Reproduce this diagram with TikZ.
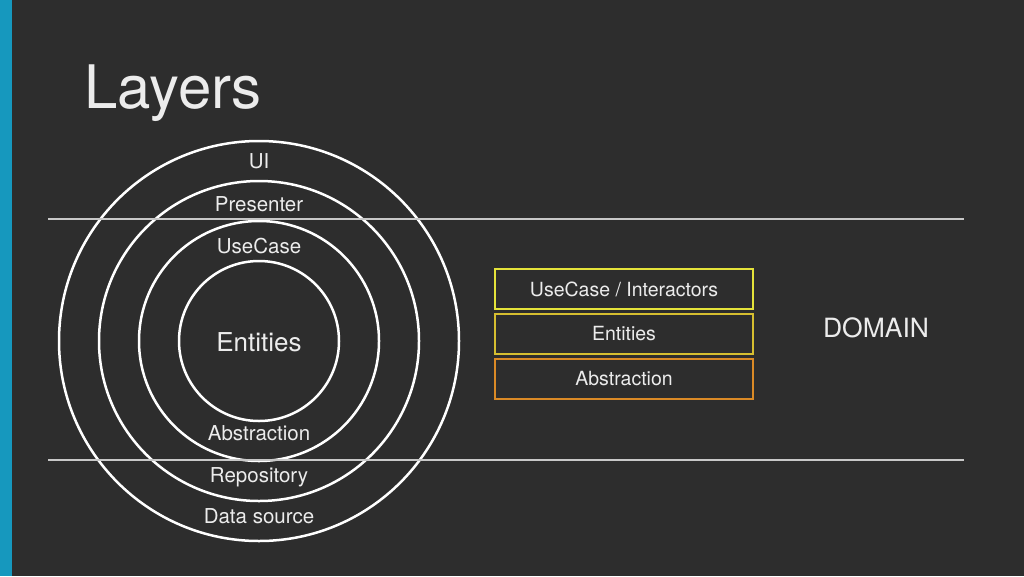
\documentclass[tikz,border=0pt]{standalone}
\usepackage{fontspec}
\setmainfont{TeX Gyre Heros}
\usepackage{xcolor}
\usetikzlibrary{positioning}
\definecolor{slate}{RGB}{45,45,45}
\definecolor{stripe}{RGB}{22,152,190}
\definecolor{ink}{RGB}{236,236,236}
\definecolor{rule}{RGB}{200,200,200}
\definecolor{lemon}{RGB}{228,226,58}
\definecolor{gold}{RGB}{214,190,48}
\definecolor{amber}{RGB}{218,138,38}

\begin{document}
\begin{tikzpicture}[x=1pt, y=-1pt,
  ring/.style={draw=white, line width=2.5pt},
  lbl/.style={text=ink, font=\fontsize{20.5}{24}\selectfont},
  layerbox/.style={draw=#1, line width=2pt, fill=slate, minimum width=258pt,
    minimum height=40pt, text=ink, font=\fontsize{19.5}{22}\selectfont}]
  \useasboundingbox (0,0) rectangle (1024,576);
  \fill[slate] (0,0) rectangle (1024,576);
  \fill[stripe] (0,0) rectangle (12,576);
  \node[anchor=base west, text=ink, font=\fontsize{60}{66}\selectfont] (title) at (81,108) {Layers};
  % onion
  \coordinate (core) at (259,341);
  \foreach \r in {80,120,160,200}
    \draw[ring] (core) circle[radius=\r pt];
  \coordinate (topl) at (48,219);
  \coordinate (topr) at (964,219);
  \coordinate (botl) at (48,460);
  \coordinate (botr) at (964,460);
  \draw[rule, line width=1.3pt] (topl) -- (topr);
  \draw[rule, line width=1.3pt] (botl) -- (botr);
  \node[lbl] (ui) at (259,161) {UI};
  \node[lbl] (pres) at (259,204) {Presenter};
  \node[lbl] (uc) at (259,246) {UseCase};
  \node[lbl, font=\fontsize{26}{30}\selectfont] (ent) at (259,342) {Entities};
  \node[lbl] (abs) at (259,433) {Abstraction};
  \node[lbl] (repo) at (259,477) {Repository};
  \node[lbl] (ds) at (259,516) {Data source};
  % domain stack
  \node[layerbox=lemon] (ucbox) at (624,289) {UseCase / Interactors};
  \node[layerbox=gold, below=3pt of ucbox] (entbox) {Entities};
  \node[layerbox=amber, below=3pt of entbox] (absbox) {Abstraction};
  \node[text=ink, font=\fontsize{26.5}{30}\selectfont] (dom) at (876,328) {DOMAIN};
\end{tikzpicture}
\end{document}
